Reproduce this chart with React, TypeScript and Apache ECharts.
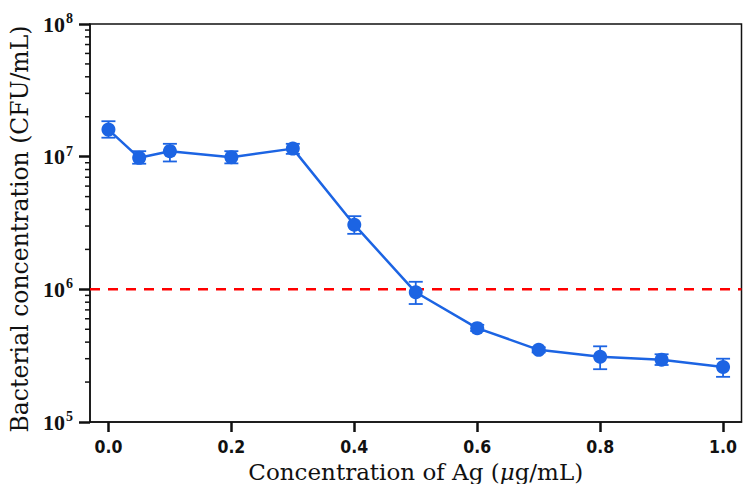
import React, { useEffect, useRef } from "react";
import * as echarts from "echarts";

const xValues = [0, 0.05, 0.1, 0.2, 0.3, 0.4, 0.5, 0.6, 0.7, 0.8, 0.9, 1.0];
const meanValues = [1.6e7, 9.8e6, 1.1e7, 9.9e6, 1.15e7, 3.07e6, 9.5e5, 5.1e5, 3.5e5, 3.1e5, 2.95e5, 2.6e5];
const lowValues = [1.39e7, 8.85e6, 9.2e6, 8.9e6, 1.05e7, 2.62e6, 7.75e5, 4.85e5, 3.35e5, 2.5e5, 2.69e5, 2.19e5];
const highValues = [1.85e7, 1.1e7, 1.25e7, 1.1e7, 1.25e7, 3.56e6, 1.14e6, 5.4e5, 3.65e5, 3.72e5, 3.24e5, 3.0e5];
const xTickValues = [0, 0.2, 0.4, 0.6, 0.8, 1.0];
const thresholdValue = 1e6;
const minorTickValues: number[] = [];
for (const d of [1e5, 1e6, 1e7]) {
  for (let k = 2; k <= 9; k++) minorTickValues.push(k * d);
}

const X_MIN = -0.03;
const X_MAX = 1.03;
const BLUE = "#1c64e3";

export default function App() {
  const ref = useRef<HTMLDivElement>(null);
  useEffect(() => {
    if (!ref.current) return;
    const chart = echarts.init(ref.current, null, { renderer: "svg" });
    const option: any = {
      animation: false,
      backgroundColor: "#ffffff",
      grid: {
        left: 90,
        right: 1.5,
        top: 24,
        bottom: 62,
        containLabel: false,
        outerBoundsMode: "none",
        show: true,
        borderColor: "#111",
        borderWidth: 1.5,
        backgroundColor: "transparent",
      },
      xAxis: {
        type: "value",
        min: X_MIN,
        max: X_MAX,
        name: "Concentration of Ag ({i|μ}g/mL)",
        nameLocation: "middle",
        nameGap: 28,
        nameTextStyle: {
          fontFamily: "DejaVu Serif",
          fontSize: 23,
          color: "#111",
          rich: {
            i: { fontFamily: "DejaVu Serif", fontStyle: "italic", fontSize: 23, color: "#111" },
          },
        },
        axisLine: { show: true, onZero: false, lineStyle: { color: "#111", width: 1.5 } },
        axisTick: {
          show: true,
          length: 10,
          lineStyle: { color: "#111", width: 2.5 },
          customValues: xTickValues,
        },
        axisLabel: {
          margin: 16,
          customValues: xTickValues,
          formatter: (v: number) => v.toFixed(1),
          fontFamily: "'DejaVu Sans Condensed', 'Liberation Sans Narrow', sans-serif",
          fontWeight: "bold",
          fontSize: 17.5,
          color: "#111",
        },
        splitLine: { show: false },
      },
      yAxis: {
        type: "log",
        logBase: 10,
        min: 1e5,
        max: 1e8,
        name: "Bacterial concentration (CFU/mL)",
        nameLocation: "middle",
        nameGap: 44,
        nameRotate: 90,
        nameTextStyle: {
          fontFamily: "DejaVu Serif",
          fontSize: 23.5,
          color: "#111",
          padding: [0, 12, 0, 0],
        },
        axisLine: { show: true, onZero: false, lineStyle: { color: "#111", width: 1.5 } },
        axisTick: { show: true, length: 11, lineStyle: { color: "#111", width: 2.5 } },
        axisLabel: {
          margin: 17,
          fontFamily: "Liberation Serif",
          fontWeight: "bold",
          fontSize: 22,
          color: "#111",
          formatter: (v: number) => "{b|10}{s|" + Math.round(Math.log10(v)) + "}",
          rich: {
            b: { fontFamily: "Liberation Serif", fontWeight: "bold", fontSize: 22, color: "#111" },
            s: {
              fontFamily: "Liberation Serif",
              fontWeight: "bold",
              fontSize: 14,
              color: "#111",
              verticalAlign: "bottom",
              padding: [0, 0, 11, 1],
            },
          },
        },
        splitLine: { show: false },
      },
      series: [
        {
          type: "custom",
          name: "minorTicks",
          silent: true,
          clip: false,
          data: minorTickValues.map((v) => [X_MIN, v]),
          renderItem: (params: any, api: any) => {
            const p = api.coord([api.value(0), api.value(1)]);
            return {
              type: "line",
              shape: { x1: p[0] - 5, y1: p[1], x2: p[0], y2: p[1] },
              style: { stroke: "#111", lineWidth: 1.5 },
            };
          },
          z: 5,
        },
        {
          type: "line",
          name: "threshold",
          data: [
            [X_MIN, thresholdValue],
            [X_MAX, thresholdValue],
          ],
          symbol: "none",
          lineStyle: { color: "#ff0000", width: 2.5, type: [10, 8] },
          z: 1,
        },
        {
          type: "custom",
          name: "errors",
          data: xValues.map((x, i) => [x, lowValues[i], highValues[i]]),
          renderItem: (params: any, api: any) => {
            const lo = api.coord([api.value(0), api.value(1)]);
            const hi = api.coord([api.value(0), api.value(2)]);
            const hw = 7;
            const style = { stroke: BLUE, lineWidth: 1.8 };
            return {
              type: "group",
              children: [
                { type: "line", shape: { x1: lo[0], y1: lo[1], x2: hi[0], y2: hi[1] }, style },
                { type: "line", shape: { x1: lo[0] - hw, y1: lo[1], x2: lo[0] + hw, y2: lo[1] }, style },
                { type: "line", shape: { x1: hi[0] - hw, y1: hi[1], x2: hi[0] + hw, y2: hi[1] }, style },
              ],
            };
          },
          z: 3,
        },
        {
          type: "line",
          name: "mean",
          data: xValues.map((x, i) => [x, meanValues[i]]),
          symbol: "circle",
          symbolSize: 14,
          itemStyle: { color: BLUE },
          lineStyle: { color: BLUE, width: 2.5 },
          z: 4,
        },
      ],
    };
    chart.setOption(option);
    return () => chart.dispose();
  }, []);
  return (
    <div
      ref={ref}
      style={{ position: "fixed", left: 0, top: 0, width: 743, height: 484, background: "#fff" }}
    />
  );
}
